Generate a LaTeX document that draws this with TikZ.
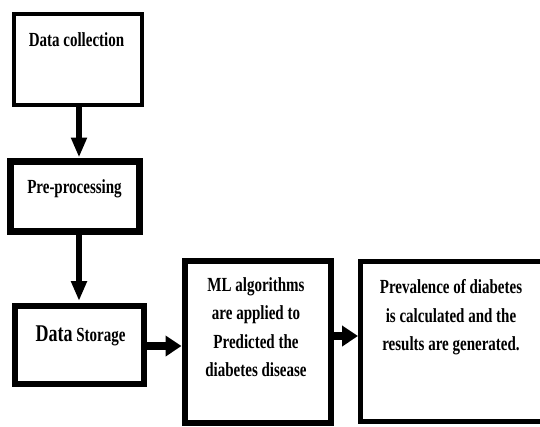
\documentclass[tikz,border=0pt]{standalone}
\usepackage{fontspec}
\newfontfamily\lbl{Liberation Serif}[FakeStretch=0.75]
\usetikzlibrary{arrows.meta}
\begin{document}
\begin{tikzpicture}[x=1pt,y=-1pt,
  box/.style={draw=black, fill=white, rectangle, inner sep=0pt, outer sep=auto},
  txt/.style={anchor=base, inner sep=0pt, font=\lbl\bfseries\fontsize{20}{28.5}\selectfont, align=center},
  vflow/.style={line width=5.5pt, -{Triangle[length=20pt,width=15pt]}},
  hflow/.style={line width=8pt, -{Triangle[length=16pt,width=20pt]}}]
\useasboundingbox (0,0) rectangle (540,426);
\clip (0,0) rectangle (540,426);
% boxes
\node[box, line width=4pt, minimum width=128pt, minimum height=91pt] (b1) at (78,59.5) {};
\node[box, line width=7pt, minimum width=129pt, minimum height=70pt] (b2) at (75,196) {};
\node[box, line width=6pt, minimum width=128.5pt, minimum height=77.5pt] (b3) at (79.25,344.75) {};
\node[box, line width=6pt, minimum width=146.5pt, minimum height=162.5pt] (b4) at (257.75,341.75) {};
\node[box, line width=5pt, minimum width=182.5pt, minimum height=159.5pt] (b5) at (451.75,341.25) {};
% texts (base anchor = baseline of the last line)
\node[txt] (t1) at (76.5,46) {Data collection};
\node[txt] (t2) at (74.5,193) {Pre-processing};
\node[txt] (t3) at (80.5,341) {{\fontsize{24}{28}\selectfont Data} Storage};
\node[txt] (t4) at (256,376.5) {ML algorithms\\are applied to\\Predicted the\\diabetes disease};
\node[txt] (t5) at (451,350.5) {Prevalence of diabetes\\is calculated and the\\results are generated.};
% connectors
\coordinate (a1s) at ([xshift=1pt]b1.south);
\draw[vflow] (a1s) -- (a1s |- b2.north);
\coordinate (a2s) at ([xshift=4pt,yshift=5pt]b2.south);
\draw[vflow, shorten >=2pt] (a2s) -- (a2s |- b3.north);
\coordinate (a3s) at ([yshift=-1.25pt]b3.east);
\draw[hflow] (a3s) -- (a3s -| b4.west);
\coordinate (a4s) at ([yshift=5.75pt]b4.east);
\draw[hflow] (a4s) -- (a4s -| b5.west);
\end{tikzpicture}
\end{document}
